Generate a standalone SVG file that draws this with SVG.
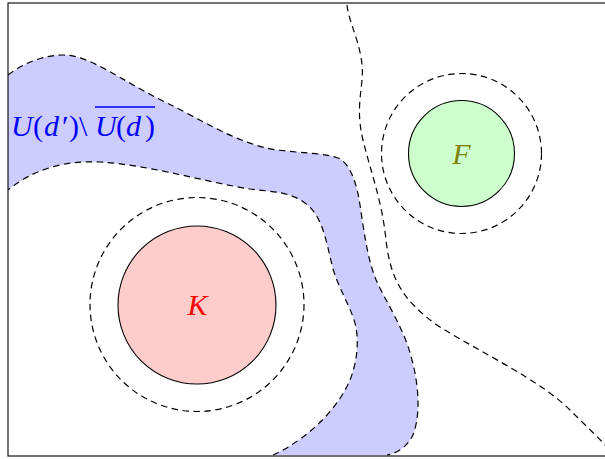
<svg xmlns="http://www.w3.org/2000/svg" width="605" height="459" viewBox="0 0 605 459">
<style>
.dash{fill:none;stroke:#000;stroke-width:1.2;stroke-dasharray:6.5 4.5}
.solid{stroke:#000;stroke-width:1.1}
.lbl{font-family:"Liberation Serif","DejaVu Serif",serif;font-size:30px}
.it{font-style:italic}
</style>
<rect x="0" y="0" width="605" height="459" fill="#fff"/>
<g id="region">
<path d="M8,75 C25,62 45,55 63,55 C90,55 120,80 167,103 C200,119 240,145 277,150 C300,153 325,153 338,158 C348,162 356,178 360,205 C364,232 368,262 377,282 C385,300 405,330 412,360 C420,390 420,420 412,437 C406,448 395,454 387,455 L273,455 C300,443 335,415 350,380 C358,360 360,335 353,317 C347,300 337,285 332,265 C326,240 322,215 305,203 C290,192 275,192 250,189 C210,183 150,165 100,162 C60,160 30,172 8,190 Z" fill="#ccccff"/>
<path class="dash" d="M8,75 C25,62 45,55 63,55 C90,55 120,80 167,103 C200,119 240,145 277,150 C300,153 325,153 338,158 C348,162 356,178 360,205 C364,232 368,262 377,282 C385,300 405,330 412,360 C420,390 420,420 412,437 C406,448 395,454 387,455"/>
<path class="dash" d="M273,455 C300,443 335,415 350,380 C358,360 360,335 353,317 C347,300 337,285 332,265 C326,240 322,215 305,203 C290,192 275,192 250,189 C210,183 150,165 100,162 C60,160 30,172 8,190"/>
<text class="lbl" fill="#0000ff" y="135.5"><tspan class="it" x="11">U</tspan><tspan x="33">(</tspan><tspan class="it" x="44">d</tspan><tspan x="62">′</tspan><tspan x="69">)</tspan><tspan x="79">\</tspan><tspan class="it" x="95">U</tspan><tspan x="116">(</tspan><tspan class="it" x="126">d</tspan><tspan x="145">)</tspan></text>
<line x1="95" y1="107" x2="155" y2="107" stroke="#0000ff" stroke-width="1.4"/>
</g>
<g id="boundary">
<path class="dash" d="M347,5 C349,25 365,50 362,80 C360,100 357,115 363,140 C370,170 382,200 386,240 C390,275 400,300 440,327 C480,352 540,380 570,410 C585,425 598,437 607,447"/>
</g>
<g id="K">
<circle class="dash" cx="197" cy="304.5" r="107"/>
<circle class="solid" cx="197" cy="305" r="79" fill="#ffcccc"/>
<text class="lbl it" x="197.5" y="315" fill="#ff0000" text-anchor="middle">K</text>
</g>
<g id="F">
<circle class="dash" cx="461.5" cy="153.5" r="80"/>
<circle class="solid" cx="461.5" cy="153.5" r="53" fill="#ccffcc"/>
<text class="lbl it" x="461.5" y="164" fill="#808000" text-anchor="middle">F</text>
</g>
<rect id="frame" x="8" y="3" width="620" height="453" fill="none" stroke="#000" stroke-width="1.1"/>
</svg>
